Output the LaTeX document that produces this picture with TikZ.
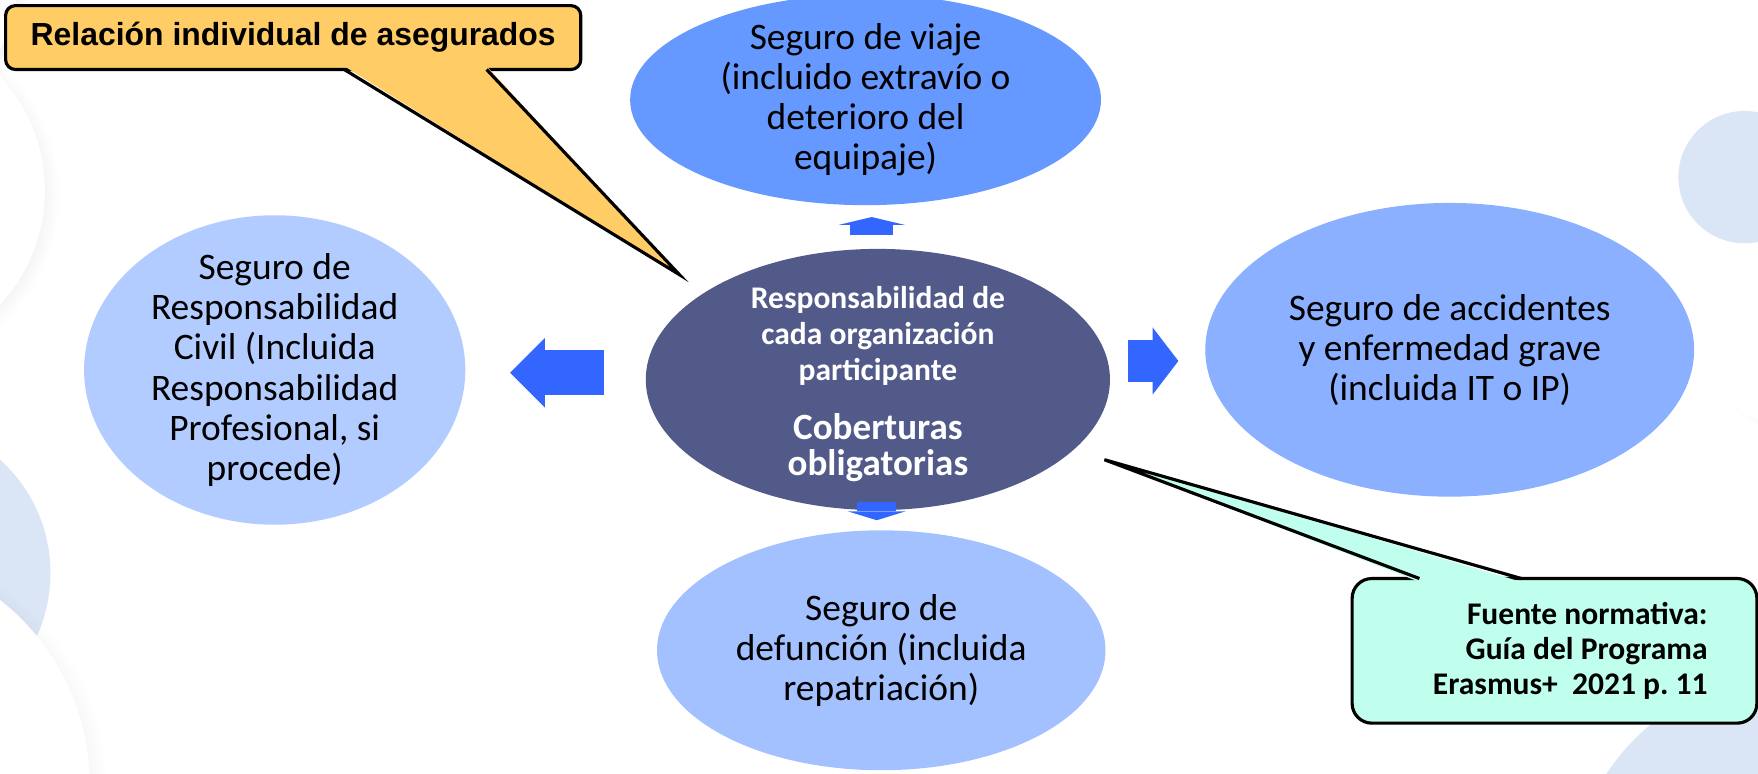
\documentclass[tikz,border=0pt]{standalone}
\usepackage{fontspec}
\setmainfont{Carlito}
\newfontfamily\arialfont{Liberation Sans}
\usepackage{tikz}
\usetikzlibrary{positioning, arrows.meta, shapes.geometric, shadows, calc}
\usepackage{xcolor}

\definecolor{viajeblue}{RGB}{102,153,255}
\definecolor{respblue}{RGB}{82,90,138}
\definecolor{civilblue}{RGB}{179,204,255}
\definecolor{accidblue}{RGB}{138,176,255}
\definecolor{defunblue}{RGB}{163,192,255}
\definecolor{arrowblue}{RGB}{51,102,255}
\definecolor{noteyellow}{RGB}{255,204,102}
\definecolor{notemint}{RGB}{192,255,238}
\definecolor{ghostblue}{RGB}{218,229,245}

\begin{document}
\begin{tikzpicture}[>=Latex,
                        bubble/.style={ellipse, draw=none, inner sep=0pt},
                        txt/.style={align=center, inner sep=0pt, font=\fontsize{9.5}{10.2}\selectfont},
                        block arrow/.style={line width=#1, draw=arrowblue, line cap=butt},
                        ghost/.style={fill=white, circular drop shadow={shadow xshift=2pt, shadow yshift=-1pt, shadow scale=1.04, opacity=0.12}},
                        note/.style={draw=black, line width=0.8pt}]
                    \useasboundingbox (0, 0) rectangle (15.68, 6.90);

                    % Background circles
                    \fill[ghostblue] (-0.91, 1.79) circle (1.36);
                    \fill[ghost] (-1.30, -0.10) circle (2.10);
                    \fill[ghost] (-1.10, 5.20) circle (1.50);
                    \fill[ghost] (-0.90, 7.00) circle (1.05);
                    \fill[ghost] (16.20, 1.60) circle (1.75);
                    \fill[ghostblue] (16.00, -1.10) circle (2.00);
                    \fill[ghost] (16.00, 3.95) circle (0.86);
                    \fill[ghostblue] (15.56, 5.32) circle (0.59);

                    % Coverages
                    \node[bubble, fill=viajeblue, minimum width=4.20cm, minimum height=1.88cm,
                          label={[txt]center:{Seguro de viaje\\(incluido extravío o\\deterioro del\\equipaje)}}] (viaje) at (7.72, 6.01) {};
                    \node[bubble, fill=civilblue, minimum width=3.40cm, minimum height=2.76cm,
                          label={[txt]center:{Seguro de\\Responsabilidad\\Civil (Incluida\\Responsabilidad\\Profesional, si\\procede)}}] (civil) at (2.45, 3.60) {};
                    \node[bubble, fill=accidblue, minimum width=4.36cm, minimum height=2.62cm,
                          label={[txt]center:{Seguro de accidentes\\y enfermedad grave\\(incluida IT o IP)}}] (accid) at (12.93, 3.78) {};
                    \node[bubble, fill=defunblue, minimum width=4.00cm, minimum height=2.14cm,
                          label={[txt]center:{Seguro de\\defunción (incluida\\repatriación)}}] (defun) at (7.86, 1.10) {};

                    % Centre
                    \node[bubble, fill=respblue, minimum width=4.14cm, minimum height=2.33cm,
                          label={[txt, text=white, yshift=-0.04cm, font=\bfseries\fontsize{8}{9.1}\selectfont]center:{Responsabilidad de\\cada organización\\participante\\[6pt]{\fontsize{9.4}{9.1}\selectfont Coberturas}\\{\fontsize{9.4}{9.1}\selectfont obligatorias}}}] (resp) at (7.83, 3.515) {};

                    % Block arrows
                    \coordinate (up0) at (7.775, 4.800); \coordinate (up1) at (7.775, 4.964);
                    \coordinate (dn0) at (7.820, 2.425); \coordinate (dn1) at (7.820, 2.260);
                    \coordinate (lt0) at (5.390, 3.575); \coordinate (lt1) at (4.550, 3.575);
                    \coordinate (rt0) at (10.06, 3.680); \coordinate (rt1) at (10.51, 3.680);

                    \draw[block arrow=0.38cm, -{Triangle[length=0.07cm, width=0.59cm, line width=0pt]}] (up0) -- (up1);
                    \draw[block arrow=0.35cm, -{Triangle[length=0.08cm, width=0.52cm, line width=0pt]}] (dn0) -- (dn1);
                    \draw[block arrow=0.40cm, -{Triangle[length=0.31cm, width=0.62cm, line width=0pt]}] (lt0) -- (lt1);
                    \draw[block arrow=0.37cm, -{Triangle[length=0.23cm, width=0.60cm, line width=0pt]}] (rt0) -- (rt1);

                    % Callout: relacion
                    \node[note, fill=noteyellow, rounded corners=2.5pt, minimum width=5.13cm, minimum height=0.57cm, inner sep=0pt,
                          font=\arialfont\bfseries\fontsize{8.1}{9.6}\selectfont] (relbox) at (2.615, 6.565) {Relación individual de asegurados};
                    \coordinate (relb1) at (3.07, 6.28); \coordinate (relb2) at (4.34, 6.28);
                    \coordinate (reltip) at (6.06, 4.45);
                    \fill[noteyellow] ($(relb1)+(0,0.03)$) -- (reltip) -- ($(relb2)+(0,0.03)$) -- cycle;
                    \draw[note] (relb1) -- (reltip) -- (relb2);

                    % Callout: fuente
                    \node[note, fill=notemint, rounded corners=5pt, minimum height=1.29cm, text width=2.73cm, inner xsep=0.44cm, inner ysep=0pt,
                          align=flush right, font=\bfseries\fontsize{8}{8.9}\selectfont] (fuentebox) at (13.865, 1.095) {Fuente normativa:\\Guía del Programa\\Erasmus+\ \ 2021 p.~11};
                    \coordinate (fb1) at (12.66, 1.74); \coordinate (fb2) at (13.57, 1.74);
                    \coordinate (fuentetip) at (9.85, 2.80);
                    \fill[notemint] ($(fb1)+(0,-0.03)$) -- (fuentetip) -- ($(fb2)+(0,-0.03)$) -- cycle;
                    \draw[note] (fb1) -- (fuentetip) -- (fb2);

                \end{tikzpicture}
\end{document}
